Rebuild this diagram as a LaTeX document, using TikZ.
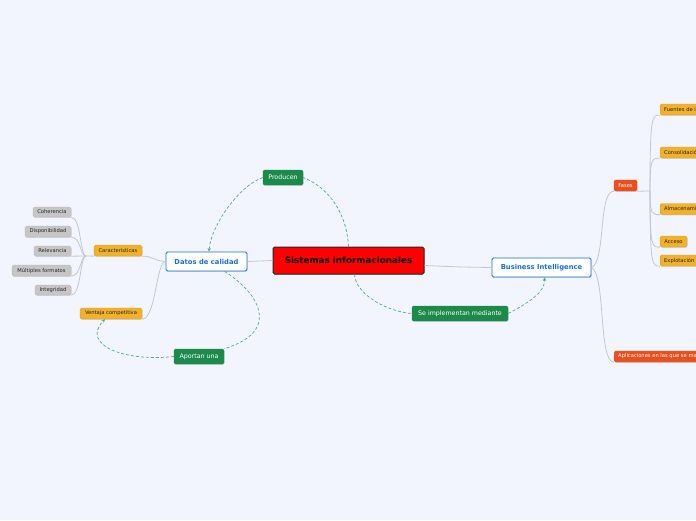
\documentclass[tikz,border=0pt]{standalone}
\usepackage{fontspec}
\setmainfont{DejaVu Sans}
\usetikzlibrary{arrows.meta,shadows}
\definecolor{bgc}{HTML}{F2F5FE}
\definecolor{orf}{HTML}{F2B12B}
\definecolor{ord}{HTML}{D99A1A}
\definecolor{grf}{HTML}{C6C6C6}
\definecolor{grd}{HTML}{B0B0B0}
\definecolor{grn}{HTML}{1B8A4A}
\definecolor{bluec}{HTML}{1A6FD8}
\definecolor{fasc}{HTML}{E8501E}
\definecolor{dgc}{HTML}{5AA88A}
\definecolor{lnc}{HTML}{C3C7CF}
\tikzset{
  base/.style={rectangle, rounded corners=1.5pt, inner sep=0pt, align=center,
    drop shadow={shadow xshift=0.5pt, shadow yshift=-0.8pt, opacity=0.25}},
  central/.style={base, fill=red, draw=black!85, line width=1pt, text=black,
    font=\bfseries\fontsize{8.8}{10}\selectfont},
  mainbox/.style={base, fill=white, draw=bluec, line width=0.9pt, text=bluec,
    font=\bfseries\fontsize{6.8}{8}\selectfont},
  greenbox/.style={base, fill=grn, draw=grn, text=white,
    font=\fontsize{6.3}{7}\selectfont},
  orbox/.style={base, fill=orf, draw=ord, line width=0.3pt, text=black!85,
    font=\fontsize{5.2}{6}\selectfont},
  grbox/.style={base, fill=grf, draw=grd, line width=0.3pt, text=black!85,
    font=\fontsize{5.2}{6}\selectfont},
  redbox/.style={base, fill=fasc, draw=fasc, text=white,
    font=\fontsize{5.2}{6}\selectfont},
  cutbox/.style={orbox, anchor=west, minimum height=11pt, inner xsep=4pt},
  link/.style={draw=lnc, line width=0.8pt},
  dlink/.style={draw=dgc, line width=0.7pt, dash pattern=on 3pt off 2pt},
  tip/.style={-{Stealth[length=3.5pt,width=3.5pt]}}
}
\begin{document}
\begin{tikzpicture}[x=1pt,y=-1pt]
\useasboundingbox (0,0) rectangle (696,520);
\clip (0,0) rectangle (696,520);
\fill[bgc] (0,0) rectangle (696,520);

% nodes
\node[central, minimum width=151pt, minimum height=27pt] (sis) at (348.5,260.5) {Sistemas informacionales};
\node[mainbox, minimum width=81pt, minimum height=19pt] (dat) at (206.5,261.5) {Datos de calidad};
\node[mainbox, minimum width=99pt, minimum height=19pt] (bi) at (541.5,267.5) {Business Intelligence};
\node[greenbox, minimum width=40pt, minimum height=15pt] (prod) at (283,177.5) {Producen};
\node[greenbox, minimum width=96pt, minimum height=15pt] (seimp) at (460,313.5) {Se implementan mediante};
\node[greenbox, minimum width=50pt, minimum height=15pt] (aport) at (199,356.5) {Aportan una};
\node[orbox, minimum width=48pt, minimum height=11pt] (car) at (118,250.5) {Características};
\node[orbox, minimum width=62pt, minimum height=11pt] (vent) at (111,313.5) {Ventaja competitiva};
\node[grbox, minimum width=38pt, minimum height=10pt] (coh) at (52,212) {Coherencia};
\node[grbox, minimum width=46pt, minimum height=11pt] (disp) at (48,231.5) {Disponibilidad};
\node[grbox, minimum width=37pt, minimum height=10pt] (rel) at (52.5,251) {Relevancia};
\node[grbox, minimum width=59pt, minimum height=11pt] (mult) at (41.5,270.5) {Múltiples formatos};
\node[grbox, minimum width=36pt, minimum height=10pt] (integ) at (53,290) {Integridad};
\node[redbox, minimum width=23pt, minimum height=11pt] (fases) at (625.5,185.5) {Fases};
\node[cutbox] (fuen) at (660,109.5) {Fuentes de información};
\node[cutbox] (cons) at (660,152.5) {Consolidación};
\node[cutbox] (alm) at (660,209) {Almacenamiento};
\node[orbox, minimum width=27pt, minimum height=11pt] (acc) at (673.5,241.5) {Acceso};
\node[cutbox] (expl) at (660,260.5) {Explotación};
\node[redbox, anchor=west, minimum height=11pt, inner xsep=4pt] (aplic) at (614,356.5) {Aplicaciones en las que se materializa};

% plain connectors
\draw[link] (sis.west) -- (dat.east);
\draw[link] ([yshift=-5pt]sis.east) .. controls (460,267) .. (bi.west);
\draw[link] (dat.west) .. controls (155,261) and (152,256) .. (car.south east);
\draw[link] (dat.west) .. controls (156,262) and (156,319) .. (vent.south east);
\coordinate (cj) at (86,256);
\draw[link] (cj) -- (car.south west);
\foreach \n in {coh,disp,rel,mult,integ}{
  \draw[link] (\n.south east) .. controls ([xshift=10pt]\n.south east) and (80,256) .. (cj);
}
\draw[link] (bi.east) .. controls (606,262) and (598,191) .. (fases.south west);
\draw[link] (bi.east) .. controls (606,275) and (598,362) .. (aplic.south west);
\coordinate (fj) at (650,191);
\draw[link] (fases.south east) -- (fj);
\foreach \n in {fuen,cons,alm,acc,expl}{
  \draw[link] (fj) .. controls (fj |- \n.south west) and ([xshift=-8pt]\n.south west) .. (\n.south west);
}

% dashed relation connectors
\draw[dlink] (sis.north) .. controls (347,215) and (330,188) .. (prod.east);
\draw[dlink, tip] (prod.west) .. controls (240,185) and (211,225) .. ([xshift=2.5pt]dat.north);
\draw[dlink] ([xshift=6pt]sis.south) .. controls (356,296) and (390,312) .. (seimp.west);
\draw[dlink, tip] (seimp.east) .. controls (530,302) and (545,292) .. ([xshift=3pt]bi.south);
\draw[dlink] ([xshift=18pt]dat.south) .. controls (255,290) and (285,330) .. (aport.north east);
\draw[dlink, tip] (aport.west) .. controls (125,362) and (80,345) .. ([xshift=-6pt]vent.south);
\end{tikzpicture}
\end{document}
